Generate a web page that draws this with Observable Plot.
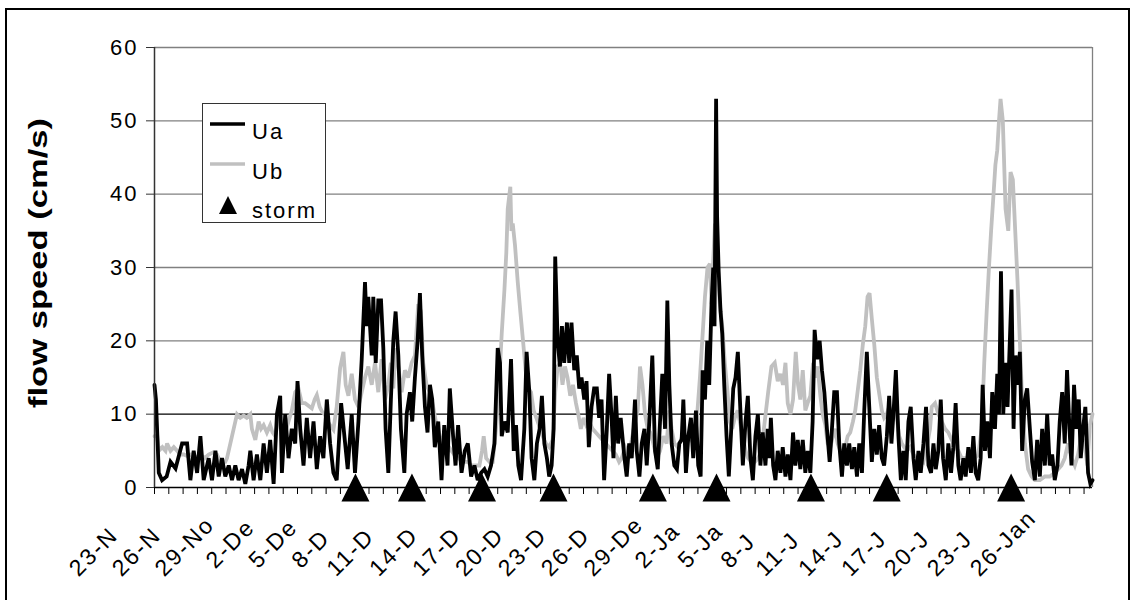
<!DOCTYPE html>
<html><head><meta charset="utf-8">
<script src="https://cdn.jsdelivr.net/npm/d3@7"></script>
<script src="https://cdn.jsdelivr.net/npm/@observablehq/plot@0.6"></script>
<style>
html,body{margin:0;padding:0;background:#fff;}
#chart{position:relative;width:1133px;height:600px;overflow:hidden;}
#chart svg text{letter-spacing:2px;}
#chart svg text.ytitle{letter-spacing:0;}
</style></head><body><div id="chart"></div>
<script>
// time axis in days since 23-Nov (one tick per day)
const uaDay = [0.00,0.10,0.30,0.53,0.85,1.12,1.47,1.93,2.28,2.51,2.74,2.98,3.21,3.44,3.79,4.02,4.26,4.49,4.72,4.95,5.19,5.42,5.65,5.88,6.12,6.35,6.58,6.70,6.93,7.16,7.40,7.63,7.86,8.09,8.33,8.56,8.79,8.91,9.14,9.37,9.60,9.84,10.00,10.19,10.42,10.65,10.88,11.12,11.35,11.58,11.81,12.05,12.28,12.51,12.74,13.05,13.33,13.51,13.79,14.02,14.26,14.49,14.72,14.84,14.95,15.19,15.30,15.47,15.65,15.84,16.00,16.16,16.35,16.53,16.70,16.86,17.05,17.23,17.47,17.63,17.86,18.02,18.21,18.40,18.56,18.72,18.91,19.09,19.26,19.42,19.60,19.84,20.07,20.26,20.49,20.65,20.88,21.05,21.23,21.47,21.70,21.91,22.14,22.37,22.60,22.84,23.07,23.30,23.53,23.77,24.00,24.16,24.28,24.47,24.70,24.93,25.12,25.28,25.44,25.63,25.86,26.02,26.21,26.37,26.56,26.74,26.93,27.09,27.26,27.44,27.60,27.77,27.91,28.02,28.19,28.35,28.49,28.65,28.84,29.00,29.16,29.35,29.53,29.70,29.86,30.05,30.21,30.37,30.56,30.74,30.93,31.09,31.26,31.44,31.63,31.79,31.95,32.09,32.26,32.42,32.60,32.86,33.02,33.19,33.37,33.60,33.72,33.91,34.07,34.26,34.42,34.60,34.81,35.00,35.19,35.35,35.51,35.70,35.86,36.00,36.16,36.35,36.53,36.70,36.86,36.98,37.16,37.33,37.51,37.67,37.86,38.02,38.19,38.33,38.49,38.65,38.79,38.95,39.07,39.16,39.27,39.34,39.45,39.58,39.70,39.84,40.00,40.16,40.33,40.47,40.63,40.79,40.98,41.14,41.33,41.49,41.67,41.84,42.02,42.19,42.37,42.53,42.72,42.88,43.00,43.10,43.26,43.42,43.58,43.77,43.93,44.12,44.28,44.47,44.65,44.81,44.98,45.16,45.33,45.51,45.67,45.86,46.02,46.16,46.33,46.51,46.67,46.84,47.02,47.21,47.37,47.53,47.72,47.88,48.07,48.23,48.42,48.58,48.77,48.93,49.12,49.28,49.47,49.63,49.81,49.98,50.16,50.33,50.51,50.67,50.86,51.02,51.21,51.37,51.53,51.67,51.84,52.02,52.19,52.37,52.53,52.72,52.88,53.07,53.23,53.42,53.58,53.77,53.95,54.12,54.30,54.47,54.63,54.81,54.98,55.14,55.33,55.51,55.70,55.86,56.02,56.21,56.37,56.56,56.72,56.91,57.09,57.26,57.42,57.60,57.77,57.91,58.07,58.23,58.42,58.58,58.77,58.93,59.05,59.19,59.35,59.51,59.65,59.81,59.93,60.07,60.21,60.35,60.51,60.67,60.86,61.02,61.21,61.37,61.56,61.72,61.91,62.07,62.26,62.42,62.60,62.77,62.95,63.14,63.30,63.47,63.65,63.81,63.98,64.12,64.30,64.47,64.63,64.77,64.93,65.09,65.28,65.44,65.59];
const uaVal = [14,12,2,1,1.5,3.5,2.6,6,6,1,5,2,7,1,4,1,5,1.5,4,1.5,3,1,3,1,2.5,0.5,3,5,1,4.5,1,6,2,6.5,0.5,10,12.5,2,10,4,8,6,14.5,8,3,9.5,4,9,2.5,7,4,12,6,2,1,11.5,6,2.5,10,2,9,17.5,28,22,26,18,26,17,25.5,25.5,19,8,2,12,20,24,18,8,2,10,13,9,15,20,26.5,18,11,7.5,14,12,5.5,9,1,8.5,3,13.5,7,3,8.5,2,5,6,1.5,3,1,2,2.5,1.5,3,6,19,17,7,9,7.5,17.5,5,8.5,3,1,8,18.5,13,4,1,6,8,12.5,6,4,1.5,3,8,31.5,20,16.5,22,17,22.5,17,22.5,16,18,13.5,15,12,14.5,5.5,11,13.5,13.5,9.5,12,1,8,15.5,10,4,12.5,6,9.5,4,1.5,6,4,12,5,1.5,6,8,3,9,18,5,2.5,9,15.5,8,25.5,14,6,3,2.5,6,6.5,12,2,7,9.5,4,10.5,3,1.5,16,12,20,14,25,30,22,53,37,29.5,24,21,14,7,1.5,8,13.5,15,18.5,10,3,9,12.5,4,1,7,10,3,7.5,3,8,4,9.5,3,1,5,2,5.5,1.5,4.5,1,7.5,3,6.5,2.5,6.5,2,5,2,9,21.5,17.5,20,16,13,8,3.5,8,13,13,6,1.5,6,3,6,2.5,5.5,1.5,6,2,10.5,18.5,11,3.5,8,4.5,8.5,4,3,7,12.5,6,10,16,7,1,5,1,9,11,4,1,5,2,6,11,3,2,6,2.5,5,12,4,1,6,2,5.5,11.5,3,1,4,1.5,5.5,2,7,2,1,4,14,5,9,4,13,8,15.5,10,29.5,10,17,11,20,27,8,18,14,18.5,5,12,13.5,8,3.5,1,6.5,1.5,8,3,10,3,4.5,1,3,9,13,6,16,8,3,14,8,12,4,8,11,2,0.5,1];

const ubDay = [0.00,0.19,0.30,0.55,0.77,0.88,1.12,1.35,1.58,1.81,2.05,2.28,2.55,2.86,3.21,3.50,3.79,4.10,4.37,4.60,4.95,5.07,5.42,5.77,6.00,6.23,6.45,6.70,6.81,7.05,7.28,7.45,7.63,7.86,8.09,8.25,8.44,8.67,8.91,9.14,9.37,9.60,9.84,10.07,10.30,10.53,11.00,11.20,11.35,11.55,11.70,11.93,12.10,12.28,12.51,12.74,12.98,13.21,13.37,13.56,13.79,14.02,14.26,14.49,14.72,14.95,15.19,15.42,15.65,15.88,16.12,16.35,16.53,16.70,16.86,17.05,17.28,17.51,17.74,17.98,18.21,18.44,18.63,18.79,19.02,19.26,19.49,19.72,19.95,20.19,20.42,20.60,20.77,20.95,21.12,21.30,21.47,21.70,21.91,22.14,22.49,22.72,22.90,23.02,23.19,23.42,23.65,23.88,24.12,24.28,24.47,24.60,24.70,24.88,24.96,25.05,25.21,25.40,25.58,25.77,25.95,26.14,26.33,26.51,26.70,26.88,27.14,27.37,27.60,27.84,28.02,28.19,28.37,28.53,28.70,28.88,29.07,29.26,29.47,29.63,29.81,30.00,30.19,30.40,30.63,30.86,31.09,31.33,31.56,31.79,32.02,32.26,32.49,32.67,32.91,33.14,33.37,33.60,33.79,33.95,34.12,34.30,34.49,34.67,34.88,35.12,35.35,35.58,35.81,36.00,36.16,36.35,36.58,36.81,37.00,37.21,37.44,37.67,37.91,38.14,38.30,38.49,38.67,38.84,38.95,39.07,39.19,39.37,39.53,39.70,39.88,40.07,40.23,40.40,40.58,40.77,40.93,41.12,41.33,41.51,41.74,41.98,42.21,42.44,42.67,42.91,43.14,43.37,43.58,43.77,43.95,44.12,44.28,44.47,44.65,44.84,45.00,45.16,45.33,45.51,45.67,45.86,46.05,46.21,46.37,46.56,46.72,46.91,47.07,47.26,47.44,47.60,47.77,47.95,48.14,48.30,48.47,48.65,48.84,49.00,49.16,49.35,49.53,49.70,49.86,50.00,50.16,50.33,50.51,50.70,50.86,51.02,51.21,51.37,51.53,51.72,51.91,52.07,52.26,52.42,52.60,52.84,53.07,53.30,53.53,53.77,54.00,54.23,54.35,54.58,54.81,55.05,55.28,55.51,55.74,55.98,56.21,56.44,56.67,56.91,57.14,57.37,57.60,57.84,58.02,58.19,58.35,58.50,58.67,58.80,58.93,59.05,59.16,59.32,59.51,59.70,59.86,60.02,60.21,60.35,60.51,60.67,60.86,61.09,61.33,61.56,61.91,62.26,62.60,62.95,63.19,63.42,63.65,63.88,64.12,64.35,64.58,64.81,65.05,65.23,65.40,65.59];
const ubVal = [7,7,5,5.5,5,6,5,5.5,5,4.5,4.5,4.3,4.5,4,4.5,4,4.5,4.8,4.5,3.5,3.5,4,7,10,9.5,9.8,9.5,10,8,6.5,9,8,8.5,7.5,8.5,7.5,7,9.5,8,7.5,9,10.5,13,13.5,11.5,11.5,10.8,12,12.6,11,10.4,9.9,9,8.5,7.9,11,16.3,18.5,14,12.5,15.5,12,11,13,15,16.5,14,17,13,17.5,12,14,17,13.5,19,16.5,13,16,15,17,18,25,24,17,14,13,11,8.5,7,5.5,4.5,5.5,5,4.5,4,4,3.5,3.5,3.5,3,3,3,5,7,4,3.5,3.5,8,15,21,27,32,38,41,35,36,33,28,24,20,16,13.5,13,10.5,9.5,8.5,7,6,5.5,6.5,13,16.5,17,14,16.5,15,12.5,14,11.5,10,8,9.5,8.5,9,8,7.5,7,6.5,6,5.5,5,4.5,3.5,4,5.5,4.5,6.5,9,10.5,16.5,14,10,8,7.5,6,4,5,7,6,10.5,8,6,5.5,6.5,7.5,6,7,6,9,15,20,26,30,30.5,25,31,36,30,25,22,17,13,9,8,9.5,10.5,9,7,5,4,3.5,3.5,4,5,9,13,16.5,17,14.5,15.5,14,17,11.5,10,12,18.5,14,12,16,10.5,11.5,12.5,17,15,16.5,12.5,10,8.5,6,5.5,7,8,6,5,5,5.5,7,7.5,9,10.5,13,16,19.5,22,26,26.5,23,19.5,15,12.5,10.5,9.5,10,11,10,11,9.5,7,6,5.5,5,5.5,4.5,4,4,3.5,5.5,8,11,11.5,10,9,8,7.5,6.5,5.5,5,4,4,4,4.5,4,4.5,8,17,24,30,35,40,44,46,50,53,50,38,35,43,42,34,28,20,12,6,2.5,1.5,1,1,1.5,1.5,2,2.5,3,4,6,4,3,4.5,7,6,3,8.5,10];

const stormDay = [14.05,18.0,22.9,27.9,34.85,39.3,45.9,51.2,59.9];
const tickLabels = ["23-N","26-N","29-No","2-De","5-De","8-D","11-D","14-D","17-D","20-D","23-D","26-D","29-De","2-Ja","5-Ja","8-J","11-J","14-J","17-J","20-J","23-J","26-Jan"];
const tickLabelDay = [0,3,6,9,12,15,18,21,24,27,30,33,36,39,42,45,48,51,54,57,60,63];
const tickDays = d3.range(0, 66);
const yTicks = [0,10,20,30,40,50,60];
const xMax = 65.59;
const seriesNames = ["Ua","Ub","storm"];
const yTitle = "flow speed (cm/s)";

const ua = uaDay.map((d,i)=>({day:d, v:uaVal[i]}));
const ub = ubDay.map((d,i)=>({day:d, v:ubVal[i]}));
const storms = stormDay.map(d=>({day:d, v:0}));
const labels = tickLabelDay.map((d,i)=>({day:d, label:tickLabels[i]}));
const oneDigit = labels.filter(l=>l.label.split("-")[0].length===1);
const twoDigit = labels.filter(l=>l.label.split("-")[0].length===2);

const FONT = "'Liberation Sans', Arial, sans-serif";
const tri = {draw(ctx,size){const h=Math.sqrt(size/Math.PI); ctx.moveTo(0,-h); ctx.lineTo(h,h); ctx.lineTo(-h,h); ctx.closePath();}};

const plot = Plot.plot({
  width:1133, height:600,
  marginLeft:154, marginRight:41, marginTop:47, marginBottom:113,
  x:{domain:[0,xMax], axis:null},
  y:{domain:[0,60], axis:null},
  style:{fontFamily:FONT, fontSize:"22px", color:"#000", background:"transparent", overflow:"visible"},
  marks:[
    Plot.gridY({ticks:yTicks.slice(2), stroke:"#808080", strokeOpacity:1, strokeWidth:1.3}),
    Plot.gridY({ticks:[yTicks[1]], stroke:"#000", strokeOpacity:1, strokeWidth:1.2}),
    Plot.ruleX([xMax], {stroke:"#808080", strokeWidth:1.3}),
    Plot.axisY({ticks:yTicks, label:null, tickSize:8, tickPadding:8, fontSize:22, stroke:"#333"}),
    Plot.axisX({ticks:tickDays, label:null, tickSize:7, tickFormat:()=>"", stroke:"#000"}),
    Plot.line(ub, {x:"day", y:"v", stroke:"#c0c0c0", strokeWidth:3.8, strokeLinejoin:"miter", strokeMiterlimit:3}),
    Plot.line(ua, {x:"day", y:"v", stroke:"#000", strokeWidth:3.8, strokeLinejoin:"miter", strokeMiterlimit:3}),
    Plot.ruleY([0], {stroke:"#000", strokeWidth:1.5}),
    Plot.ruleX([0], {stroke:"#333", strokeWidth:1.5}),
    Plot.dot(storms, {x:"day", y:"v", symbol:tri, r:14, fill:"#000", stroke:null}),
    Plot.text(oneDigit, {x:"day", y:()=>0, text:"label", rotate:-45, textAnchor:"start", lineAnchor:"bottom", dx:-68, dy:82, fontSize:23}),
    Plot.text(twoDigit, {x:"day", y:()=>0, text:"label", rotate:-45, textAnchor:"start", lineAnchor:"bottom", dx:-76, dy:90, fontSize:23})
  ]
});
document.getElementById("chart").appendChild(plot);

const svg = d3.select(plot);
// outer chart border
svg.append("rect").attr("x",6).attr("y",9).attr("width",1123).attr("height",640)
  .attr("fill","none").attr("stroke","#000").attr("stroke-width",2);
// y-axis title
svg.append("text").attr("class","ytitle").attr("transform","translate(46.5,263) rotate(-90)")
  .attr("text-anchor","middle").attr("font-weight","bold").attr("font-size",25)
  .attr("textLength",290).attr("lengthAdjust","spacingAndGlyphs")
  .attr("font-family",FONT).attr("fill","#000").text(yTitle);
// legend
const lg = svg.append("g").attr("font-family",FONT).attr("font-size",22).attr("text-anchor","start");
lg.append("rect").attr("x",202.5).attr("y",103.5).attr("width",123).attr("height",119)
  .attr("fill","#fff").attr("stroke","#333").attr("stroke-width",1);
lg.append("line").attr("x1",210).attr("x2",245).attr("y1",124).attr("y2",124).attr("stroke","#000").attr("stroke-width",3.5);
lg.append("text").attr("x",252).attr("y",139).text(seriesNames[0]);
lg.append("line").attr("x1",210).attr("x2",245).attr("y1",164).attr("y2",164).attr("stroke","#c0c0c0").attr("stroke-width",3.5);
lg.append("text").attr("x",252).attr("y",179).text(seriesNames[1]);
lg.append("path").attr("d","M228,196L237,214L219,214Z").attr("fill","#000");
lg.append("text").attr("x",252).attr("y",218).text(seriesNames[2]);
</script></body></html>
